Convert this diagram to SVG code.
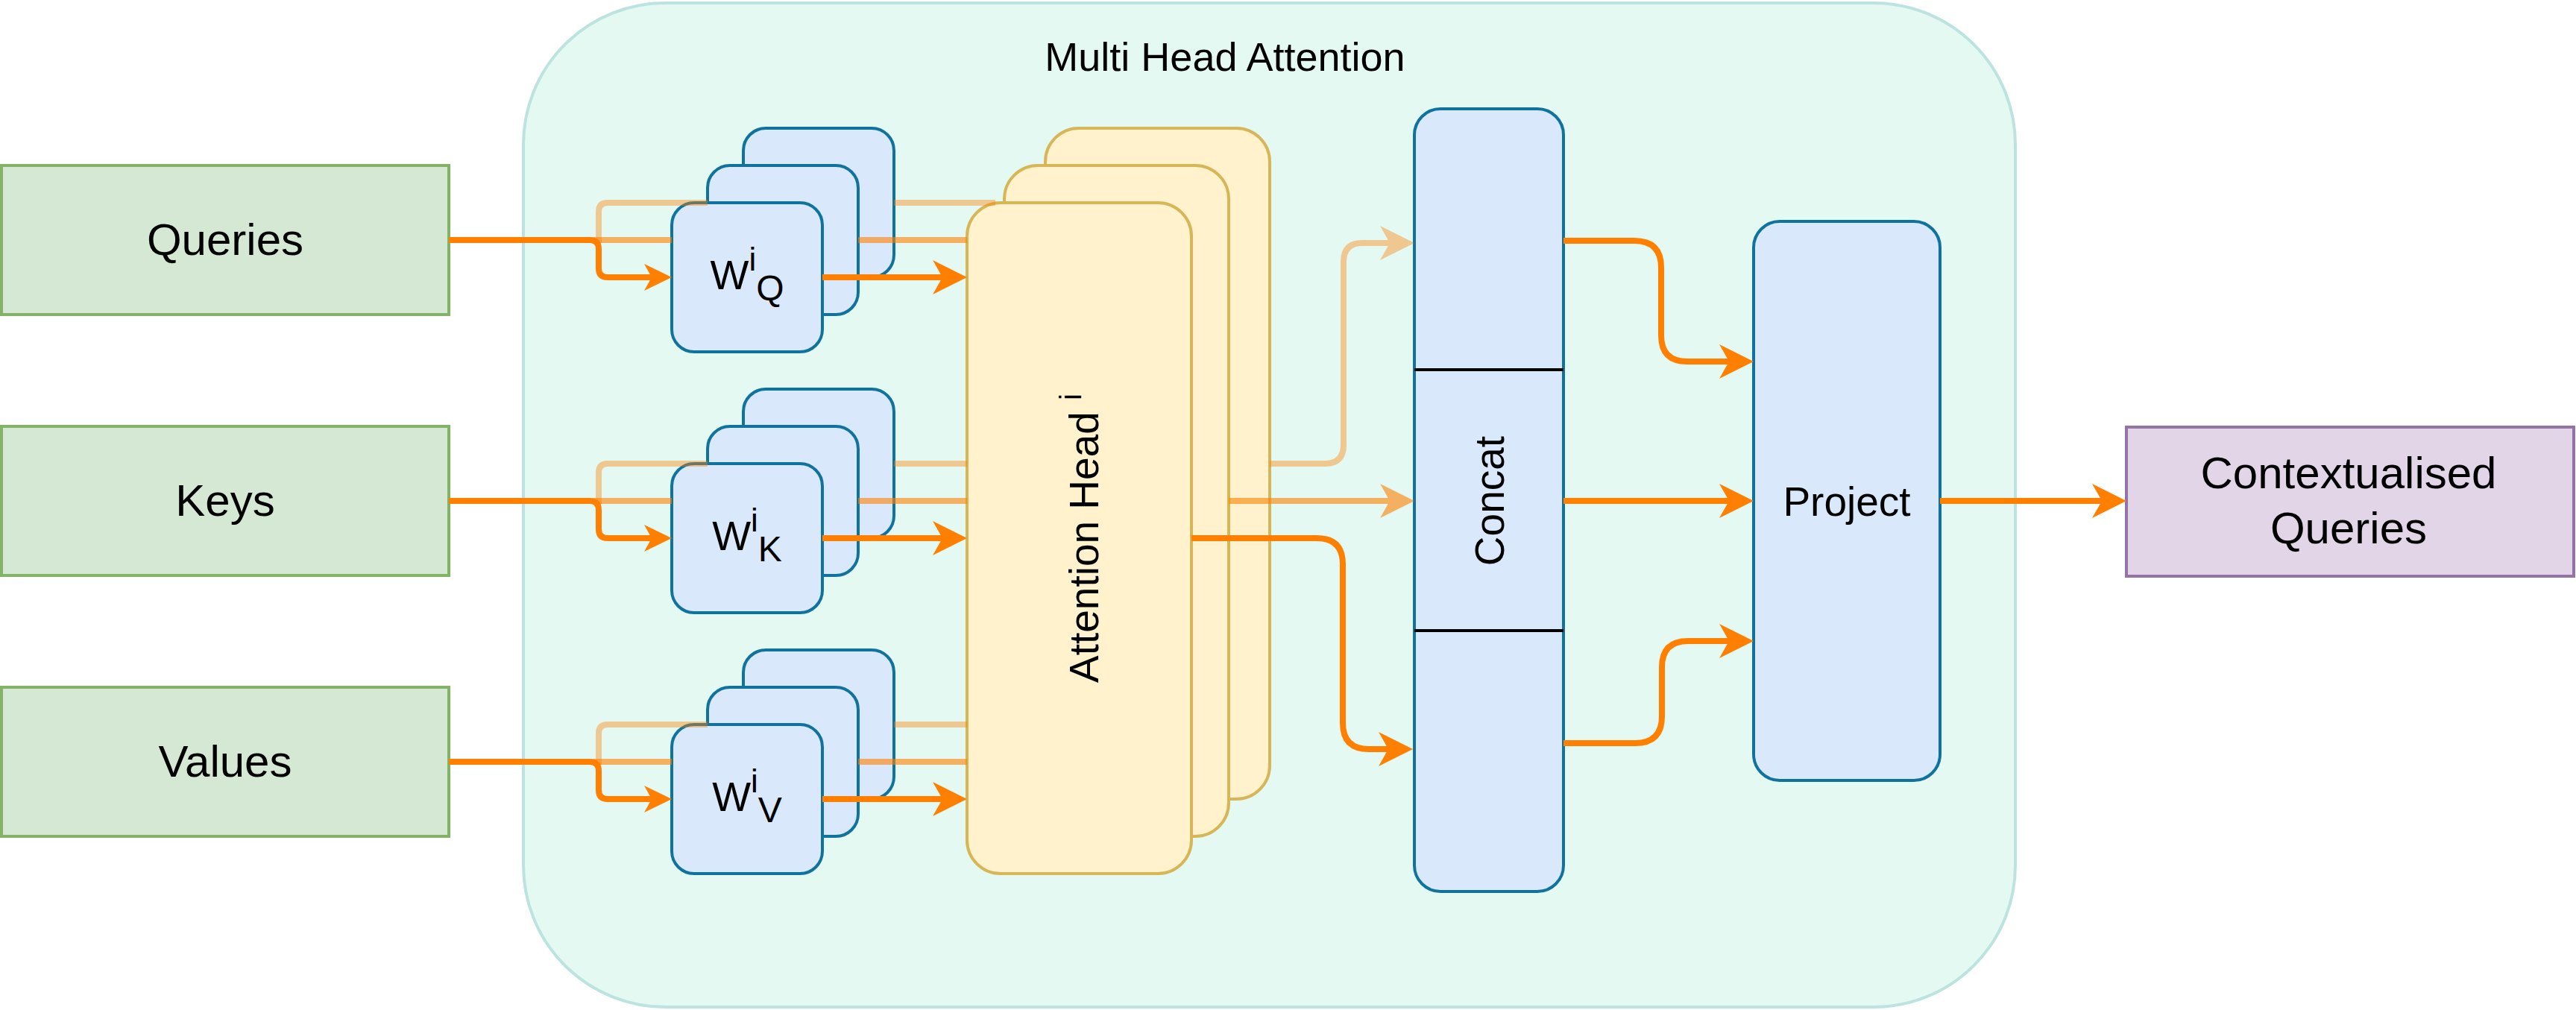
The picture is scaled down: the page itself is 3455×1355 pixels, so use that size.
<svg xmlns="http://www.w3.org/2000/svg" width="3455" height="1355" viewBox="0 0 3455 1355">
<style>
text{font-family:"Liberation Sans",Arial,Helvetica,sans-serif;fill:#000}
.cont{fill:#E3F9F2;stroke:#BDE3E0;stroke-width:4}
.inp{fill:#D5E8D4;stroke:#82B366;stroke-width:4}
.outb{fill:#E1D5E7;stroke:#9673A6;stroke-width:4}
.blue{fill:#DAE8FC;stroke:#10739E;stroke-width:4}
.head{fill:#FFF2CC;stroke:#D6B656;stroke-width:4}
.div{stroke:#000;stroke-width:4}
.e{fill:none;stroke:#FF8000;stroke-width:8}
.p4{opacity:0.4}
.p6{opacity:0.6}
.lbl{font-size:60px}
.rot{font-size:55px}
</style>
<defs>
<marker id="aL" markerUnits="userSpaceOnUse" markerWidth="60" markerHeight="60" viewBox="-15 -30 60 60" refX="0" refY="0" orient="auto" overflow="visible">
<path d="M-13,-23 L33,0 L-13,23 L0,0 Z" fill="#FF8000"/>
</marker>
<marker id="aS" markerUnits="userSpaceOnUse" markerWidth="50" markerHeight="50" viewBox="-12 -25 50 50" refX="0" refY="0" orient="auto" overflow="visible">
<path d="M-10,-18 L27,0 L-10,18 L0,0 Z" fill="#FF8000"/>
</marker>
</defs>

<g id="container">
<rect class="cont" x="702" y="4" width="2001" height="1347" rx="190" ry="190"/>
<text x="1643" y="95" font-size="54" text-anchor="middle">Multi Head Attention</text>
</g>

<g id="queries">
<rect class="inp" x="2" y="222" width="600" height="200"/>
<text class="lbl" x="302" y="342" text-anchor="middle">Queries</text>
</g>
<g id="keys">
<rect class="inp" x="2" y="572" width="600" height="200"/>
<text class="lbl" x="302" y="692" text-anchor="middle">Keys</text>
</g>
<g id="values">
<rect class="inp" x="2" y="922" width="600" height="200"/>
<text class="lbl" x="302" y="1042" text-anchor="middle">Values</text>
</g>

<g id="wq">
<rect class="blue" x="997" y="172" width="202" height="200" rx="30"/>
<rect class="blue" x="949" y="222" width="202" height="200" rx="30"/>
<rect class="blue" x="901" y="272" width="202" height="200" rx="30"/>
<text x="1002" y="388" font-size="55" text-anchor="middle">W<tspan font-size="44" dy="-25">i</tspan><tspan font-size="48" dy="40">Q</tspan></text>
</g>
<g id="wk">
<rect class="blue" x="997" y="522" width="202" height="200" rx="30"/>
<rect class="blue" x="949" y="572" width="202" height="200" rx="30"/>
<rect class="blue" x="901" y="622" width="202" height="200" rx="30"/>
<text x="1002" y="738" font-size="55" text-anchor="middle">W<tspan font-size="44" dy="-25">i</tspan><tspan font-size="48" dy="40">K</tspan></text>
</g>
<g id="wv">
<rect class="blue" x="997" y="872" width="202" height="200" rx="30"/>
<rect class="blue" x="949" y="922" width="202" height="200" rx="30"/>
<rect class="blue" x="901" y="972" width="202" height="200" rx="30"/>
<text x="1002" y="1088" font-size="55" text-anchor="middle">W<tspan font-size="44" dy="-25">i</tspan><tspan font-size="48" dy="40">V</tspan></text>
</g>

<g id="attention-heads">
<rect class="head" x="1402" y="172" width="301" height="900" rx="45"/>
<rect class="head" x="1347" y="222" width="301" height="900" rx="45"/>
<rect class="head" x="1297" y="272" width="301" height="900" rx="45"/>
<text class="rot" transform="translate(1473,722) rotate(-90)" text-anchor="middle">Attention Head <tspan font-size="40" dy="-23">i</tspan></text>
</g>

<g id="concat">
<rect class="blue" x="1897" y="146" width="200" height="1050" rx="35"/>
<line class="div" x1="1897" y1="496" x2="2097" y2="496"/>
<line class="div" x1="1897" y1="846" x2="2097" y2="846"/>
<text class="rot" transform="translate(2017,672) rotate(-90)" text-anchor="middle">Concat</text>
</g>

<g id="project">
<rect class="blue" x="2352" y="297" width="250" height="750" rx="35"/>
<text x="2477" y="692" font-size="55" text-anchor="middle">Project</text>
</g>

<g id="output">
<rect class="outb" x="2852" y="573" width="600" height="200"/>
<text class="lbl" x="3150" y="655" text-anchor="middle">Contextualised</text>
<text class="lbl" x="3150" y="729" text-anchor="middle">Queries</text>
</g>

<g id="connectors">
<g class="p4">
<path class="e" d="M803,326 V284 Q803,272 815,272 H949"/>
<path class="e" d="M1199,272 H1335"/>
<path class="e" d="M803,676 V634 Q803,622 815,622 H949"/>
<path class="e" d="M1199,622 H1297"/>
<path class="e" d="M803,1026 V984 Q803,972 815,972 H949"/>
<path class="e" d="M1199,972 H1297"/>
<path class="e" d="M1703,622 H1777 Q1802,622 1802,597 V351 Q1802,326 1827,326 H1864" marker-end="url(#aL)"/>
</g>
<g class="p6">
<path class="e" d="M795,322 H901"/>
<path class="e" d="M1151,322 H1297"/>
<path class="e" d="M795,672 H901"/>
<path class="e" d="M1151,672 H1297"/>
<path class="e" d="M795,1022 H901"/>
<path class="e" d="M1151,1022 H1297"/>
<path class="e" d="M1648,672 H1864" marker-end="url(#aL)"/>
</g>
<path class="e" d="M602,322 H791 Q803,322 803,334 V360 Q803,372 815,372 H874" marker-end="url(#aS)"/>
<path class="e" d="M602,672 H791 Q803,672 803,684 V710 Q803,722 815,722 H874" marker-end="url(#aS)"/>
<path class="e" d="M602,1022 H791 Q803,1022 803,1034 V1060 Q803,1072 815,1072 H874" marker-end="url(#aS)"/>
<path class="e" d="M1103,372 H1264" marker-end="url(#aL)"/>
<path class="e" d="M1103,722 H1264" marker-end="url(#aL)"/>
<path class="e" d="M1103,1072 H1264" marker-end="url(#aL)"/>
<path class="e" d="M1598,722 H1766 Q1801,722 1801,757 V970 Q1801,1005 1836,1005 H1862" marker-end="url(#aL)"/>
<path class="e" d="M2097,323 H2192 Q2228,323 2228,359 V450 Q2228,485 2263,485 H2319" marker-end="url(#aL)"/>
<path class="e" d="M2097,672 H2319" marker-end="url(#aL)"/>
<path class="e" d="M2097,997 H2193 Q2229,997 2229,961 V895 Q2229,860 2264,860 H2319" marker-end="url(#aL)"/>
<path class="e" d="M2602,672 H2819" marker-end="url(#aL)"/>
</g>
</svg>
